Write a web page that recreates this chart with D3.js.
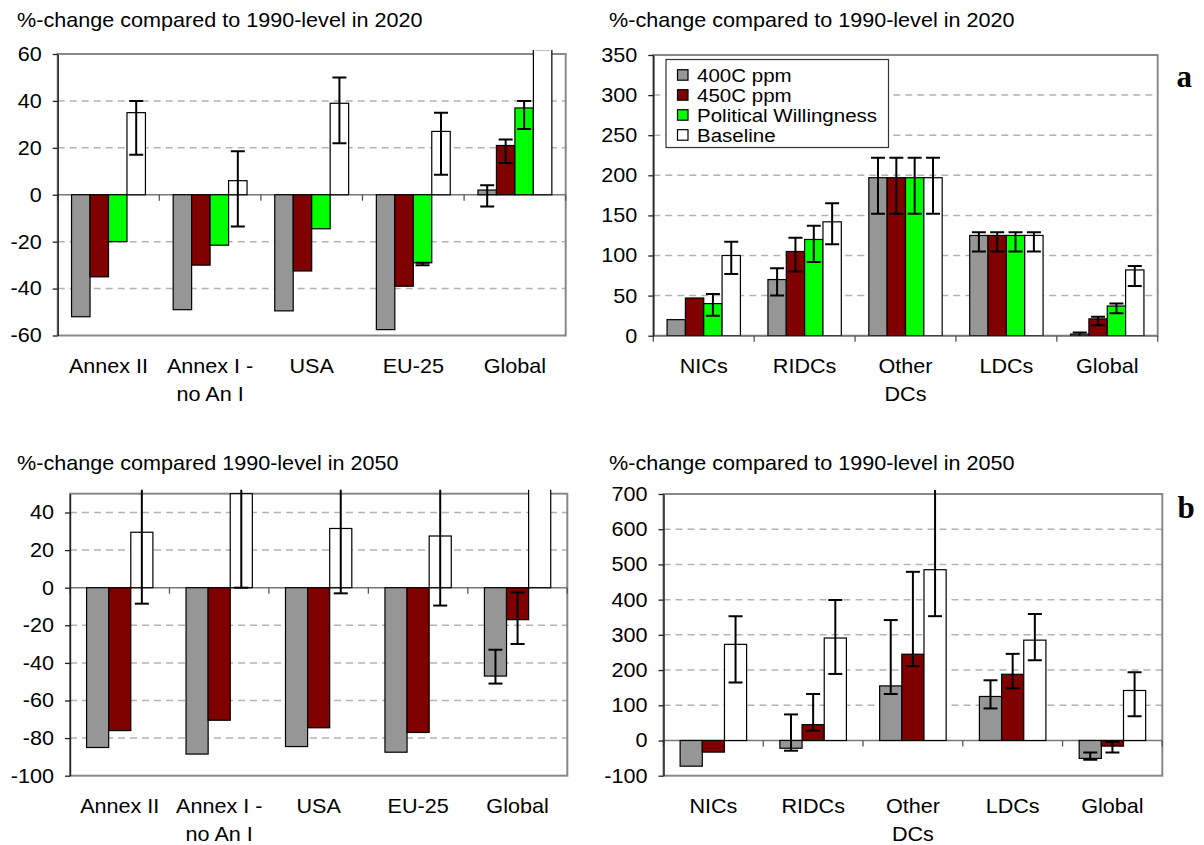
<!DOCTYPE html>
<html>
<head>
<meta charset="utf-8">
<script src="https://cdn.jsdelivr.net/npm/d3@7"></script>
<style>
  body { margin: 0; background: #fff; }
  svg text { font-family: "Liberation Sans", Arial, sans-serif; fill: #000; }
</style>
</head>
<body>
<svg id="fig" width="1204" height="845"></svg>
<script>
// ---- scenarios ----
const seriesNames = ["400C ppm", "450C ppm", "Political Willingness", "Baseline"];
const seriesFills = ["#969696", "#800000", "#00ff00", "#ffffff"];

// ---- regions (multi-line labels) ----
const regionsAnnexI = [["Annex II"], ["Annex I -", "no An I"], ["USA"], ["EU-25"], ["Global"]];
const regionsDev = [["NICs"], ["RIDCs"], ["Other", "DCs"], ["LDCs"], ["Global"]];

// ---- y-axis ticks ----
const ticksA = [-60, -40, -20, 0, 20, 40, 60];
const ticksB = [0, 50, 100, 150, 200, 250, 300, 350];
const ticksC = [-100, -80, -60, -40, -20, 0, 20, 40];
const ticksD = [-100, 0, 100, 200, 300, 400, 500, 600, 700];

// ---- 2020, Annex I regions (% change vs 1990) ----
const a20_400  = [-52, -49, -49.5, -57.5, 2];
const a20_450  = [-35, -30, -32.5, -39, 21];
const a20_pw   = [-20, -21.5, -14.5, -29, 37];
const a20_base = [35, 6, 39, 27, 82];
// uncertainty ranges [low, high]; null = none shown
const a20_400_err  = [null, null, null, null, [-5, 4]];
const a20_450_err  = [null, null, null, null, [13.5, 23.5]];
const a20_pw_err   = [null, null, null, [-30, -29], [28, 40]];
const a20_base_err = [[17, 40], [-13.5, 18.5], [22, 50], [8.5, 35], [62, 87]];

// ---- 2020, developing regions ----
const d20_400  = [20, 70, 197, 125, 2];
const d20_450  = [47, 105, 197, 125, 21];
const d20_pw   = [40, 120, 197, 125, 37];
const d20_base = [100, 142, 197, 125, 82];
const d20_400_err  = [null, [50, 84], [152, 222], [105, 129], [-5, 4]];
const d20_450_err  = [null, [80, 122], [152, 222], [105, 129], [13, 23.5]];
const d20_pw_err   = [[25, 52], [92, 137], [152, 222], [105, 129], [28, 40]];
const d20_base_err = [[77, 117], [114, 165], [152, 222], [105, 129], [62, 87]];

// ---- 2050, Annex I regions ----
const a50_400  = [-85, -88.5, -84.5, -87.5, -47];
const a50_450  = [-76, -70.5, -74.5, -77, -17];
const a50_base = [29.5, 50, 31.5, 27.5, 145];
const a50_400_err  = [null, null, null, null, [-51, -33]];
const a50_450_err  = [null, null, null, null, [-30, -2.5]];
const a50_base_err = [[-8.5, 75], [0, 110], [-3, 80], [-9.5, 70], [69, 194]];

// ---- 2050, developing regions ----
const d50_400  = [-73, -22, 155, 125, -51];
const d50_450  = [-33, 45, 245, 188, -16];
const d50_base = [273, 291, 485, 285, 142];
const d50_400_err  = [null, [-29, 74], [132, 342], [91, 171], [-55, -34]];
const d50_450_err  = [null, [28, 132], [211, 479], [148, 246], [-34, -4]];
const d50_base_err = [[165, 353], [189, 399], [353, 760], [228, 359], [69, 194]];

// ---- drawing ----
const SX = 1.08;           // horizontal stretch of the chart lettering
const svg = d3.select("#fig");

function label(sel, x, y, str, anchor, size) {
  return sel.append("text")
    .attr("transform", `translate(${x},${y}) scale(${SX},1)`)
    .attr("text-anchor", anchor)
    .style("font-size", size + "px")
    .text(str);
}

function drawPanel(p, k) {
  const g = svg.append("g");
  const y = d3.scaleLinear().domain(p.domain).range([p.bottom, p.top]);
  const n = p.series.length;
  const pad = 1.5 / (n + 1.5);       // gap between groups = 150% of a bar
  const x = d3.scaleBand().domain(d3.range(p.cats.length))
    .range([p.left, p.right]).paddingInner(pad).paddingOuter(pad / 2);
  const xs = d3.scaleBand().domain(d3.range(n)).range([0, x.bandwidth()]);
  const step = x.step();

  const clipId = "plotclip" + k;
  svg.append("clipPath").attr("id", clipId).append("rect")
    .attr("x", p.left).attr("y", p.top - 4)
    .attr("width", p.right - p.left).attr("height", p.bottom - p.top + 4);

  // dashed gridlines
  g.append("g").selectAll("line")
    .data(p.ticks.filter(t => t !== 0 && t !== p.domain[0] && t !== p.domain[1]))
    .join("line")
    .attr("x1", p.left).attr("x2", p.right)
    .attr("y1", d => y(d)).attr("y2", d => y(d))
    .attr("stroke", "#b3b3b3").attr("stroke-width", 1.5)
    .attr("stroke-dasharray", "7,5");

  // plot frame
  g.append("rect")
    .attr("x", p.left).attr("y", p.top)
    .attr("width", p.right - p.left).attr("height", p.bottom - p.top)
    .attr("fill", "none").attr("stroke", "#888").attr("stroke-width", 2);

  // category axis at zero with boundary ticks
  const y0 = y(0);
  g.append("line")
    .attr("x1", p.left).attr("x2", p.right).attr("y1", y0).attr("y2", y0)
    .attr("stroke", "#777").attr("stroke-width", 1.5);
  g.append("g").selectAll("line")
    .data(d3.range(p.cats.length + 1))
    .join("line")
    .attr("x1", i => p.left + i * step).attr("x2", i => p.left + i * step)
    .attr("y1", y0).attr("y2", y0 + 6)
    .attr("stroke", "#555").attr("stroke-width", 1.3);

  // bars
  const marks = g.append("g").attr("clip-path", `url(#${clipId})`);
  p.series.forEach((si, s) => {
    const vals = p.values[s];
    marks.append("g").selectAll("rect")
      .data(vals.map((v, i) => ({ v, i })))
      .join("rect")
      .attr("x", d => x(d.i) + xs(s))
      .attr("width", xs.bandwidth())
      .attr("y", d => Math.min(y(d.v), y0))
      .attr("height", d => Math.abs(y(d.v) - y0))
      .attr("fill", seriesFills[si])
      .attr("stroke", "#000").attr("stroke-width", 1.2);
  });

  // uncertainty bars
  const cap = 7;
  p.series.forEach((si, s) => {
    const errs = p.errors[s];
    errs.forEach((e, i) => {
      if (!e) return;
      const cx = x(i) + xs(s) + xs.bandwidth() / 2;
      const eb = marks.append("g").attr("stroke", "#000").attr("stroke-width", 2);
      eb.append("line").attr("x1", cx).attr("x2", cx).attr("y1", y(e[0])).attr("y2", y(e[1]));
      e.forEach(v => eb.append("line")
        .attr("x1", cx - cap).attr("x2", cx + cap).attr("y1", y(v)).attr("y2", y(v)));
    });
  });

  // value axis (plain hyphen for negatives)
  const ax = g.append("g").attr("transform", `translate(${p.left},0)`)
    .call(d3.axisLeft(y).tickValues(p.ticks).tickSizeInner(5).tickSizeOuter(0)
      .tickPadding(11).tickFormat(d => String(d)));
  ax.attr("font-size", null).attr("font-family", null);
  ax.select(".domain").attr("stroke", "#222").attr("stroke-width", 1.4);
  ax.selectAll(".tick line").attr("stroke", "#222").attr("stroke-width", 1.3);
  ax.selectAll(".tick text")
    .attr("x", -16 / SX)
    .attr("transform", `scale(${SX},1)`)
    .style("font-size", "20px");

  // category labels
  p.cats.forEach((lines, i) => {
    lines.forEach((ln, j) =>
      label(g, x(i) + x.bandwidth() / 2, p.bottom + 37.5 + j * 28, ln, "middle", 20));
  });

  // title
  label(g, p.titleX, p.titleY, p.title, "start", 20);
}

const panels = [
  { title: "%-change compared to 1990-level in 2020", titleX: 17, titleY: 27,
    left: 57.7, right: 565.7, top: 54, bottom: 335.5, domain: [-60, 60], ticks: ticksA,
    cats: regionsAnnexI, series: [0, 1, 2, 3],
    values: [a20_400, a20_450, a20_pw, a20_base],
    errors: [a20_400_err, a20_450_err, a20_pw_err, a20_base_err] },
  { title: "%-change compared to 1990-level in 2020", titleX: 609, titleY: 27,
    left: 653.3, right: 1157.7, top: 55, bottom: 335.7, domain: [0, 350], ticks: ticksB,
    cats: regionsDev, series: [0, 1, 2, 3],
    values: [d20_400, d20_450, d20_pw, d20_base],
    errors: [d20_400_err, d20_450_err, d20_pw_err, d20_base_err] },
  { title: "%-change compared 1990-level in 2050", titleX: 17, titleY: 470,
    left: 70, right: 567.3, top: 493.7, bottom: 775.7, domain: [-100, 50], ticks: ticksC,
    cats: regionsAnnexI, series: [0, 1, 3],
    values: [a50_400, a50_450, a50_base],
    errors: [a50_400_err, a50_450_err, a50_base_err] },
  { title: "%-change compared to 1990-level in 2050", titleX: 609, titleY: 470,
    left: 663.5, right: 1162.3, top: 494, bottom: 775.7, domain: [-100, 700], ticks: ticksD,
    cats: regionsDev, series: [0, 1, 3],
    values: [d50_400, d50_450, d50_base],
    errors: [d50_400_err, d50_450_err, d50_base_err] }
];
panels.forEach(drawPanel);

// legend
const lg = svg.append("g");
lg.append("rect").attr("x", 666).attr("y", 59.5).attr("width", 222.5).attr("height", 88)
  .attr("fill", "#fff").attr("stroke", "#333").attr("stroke-width", 1.2);
seriesNames.forEach((name, i) => {
  const cy = 75 + i * 20;
  lg.append("rect").attr("x", 677.5).attr("y", cy - 5.3).attr("width", 10.5).attr("height", 10.5)
    .attr("fill", seriesFills[i]).attr("stroke", "#000").attr("stroke-width", 1.2);
  label(lg, 697, cy + 6.8, name, "start", 19);
});

// panel letters
svg.append("text").attr("x", 1176.5).attr("y", 86.5)
  .style("font-family", "'Liberation Serif', 'Times New Roman', serif")
  .style("font-weight", "bold").style("font-size", "31px").text("a");
svg.append("text").attr("x", 1177.5).attr("y", 518)
  .style("font-family", "'Liberation Serif', 'Times New Roman', serif")
  .style("font-weight", "bold").style("font-size", "31px").text("b");
</script>
</body>
</html>
